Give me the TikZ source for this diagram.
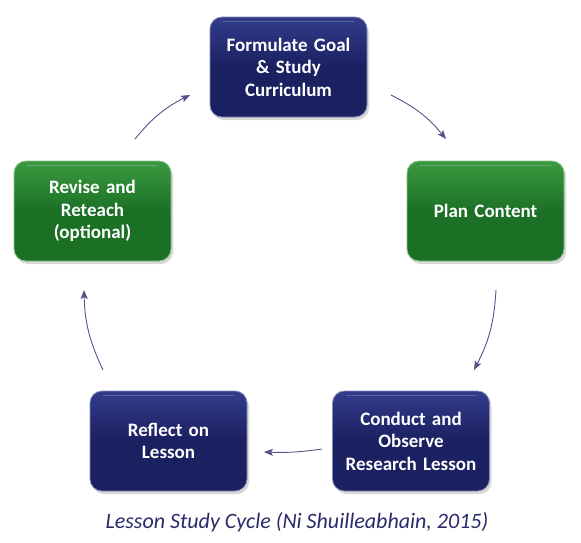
\documentclass[tikz,border=0pt]{standalone}
\usepackage{fontspec}
\setmainfont{Carlito}
\usetikzlibrary{shadows,arrows.meta}
\definecolor{navy}{HTML}{1B2060}
\definecolor{navylight}{HTML}{323C8C}
\definecolor{grn}{HTML}{1C7026}
\definecolor{grnlight}{HTML}{3A9A40}
\definecolor{arr}{HTML}{5A4F8C}
\definecolor{captc}{HTML}{2B2A6A}
\tikzset{
  stepbox/.style={rounded corners=12pt, minimum width=157pt, minimum height=100pt,
    text width=145pt, align=center, font=\bfseries\fontsize{19}{22.5}\selectfont, text=white,
    drop shadow={shadow xshift=2pt, shadow yshift=-3pt, opacity=0.3}},
  bluebox/.style={stepbox, top color=navylight, bottom color=navy, middle color=navy, draw=navylight!60!white, line width=0.8pt},
  greenbox/.style={stepbox, top color=grnlight, bottom color=grn, middle color=grn, draw=grnlight!60!white, line width=0.8pt},
  cyc/.style={draw=arr, line width=0.9pt, -{Stealth[length=9pt,width=7pt,inset=2pt]}},
}
\begin{document}
\begin{tikzpicture}[x=1pt,y=-1pt]
\useasboundingbox (0,0) rectangle (581,542);
\fill[white] (0,0) rectangle (581,542);
\node[bluebox] (goal) at (288.5,67) {Formulate Goal\\\& Study\\Curriculum};
\node[greenbox] (plan) at (485.5,211) {Plan Content};
\node[bluebox] (cond) at (411,441) {Conduct and\\Observe\\Research Lesson};
\node[bluebox] (refl) at (168.5,441) {Reflect on\\Lesson};
\node[greenbox] (rev) at (92.5,211) {Revise and\\Reteach\\(optional)};
% highlights
\foreach \n in {goal,plan,cond,refl,rev}{
  \draw[white, opacity=0.2, line width=1.5pt, line cap=round] ([xshift=14pt,yshift=-5pt]\n.north west) -- ([xshift=-14pt,yshift=-5pt]\n.north east);
}
\coordinate (a1s) at (391,95); \coordinate (a1e) at (446,139);
\coordinate (a2s) at (496,290); \coordinate (a2e) at (474,370);
\coordinate (a3s) at (322,449); \coordinate (a3e) at (264,452);
\coordinate (a4s) at (103,370); \coordinate (a4e) at (84,290);
\coordinate (a5s) at (135,139); \coordinate (a5e) at (190,95);
\draw[cyc] (a1s) to[bend left=12] (a1e);
\draw[cyc] (a2s) to[bend left=12] (a2e);
\draw[cyc] (a3s) to[bend left=5] (a3e);
\draw[cyc] (a4s) to[bend left=12] (a4e);
\draw[cyc] (a5s) to[bend left=12] (a5e);
\node[font=\itshape\fontsize{22}{26}\selectfont, text=captc] (cap) at (297,522) {Lesson Study Cycle (Ni Shuilleabhain, 2015)};
\end{tikzpicture}
\end{document}
